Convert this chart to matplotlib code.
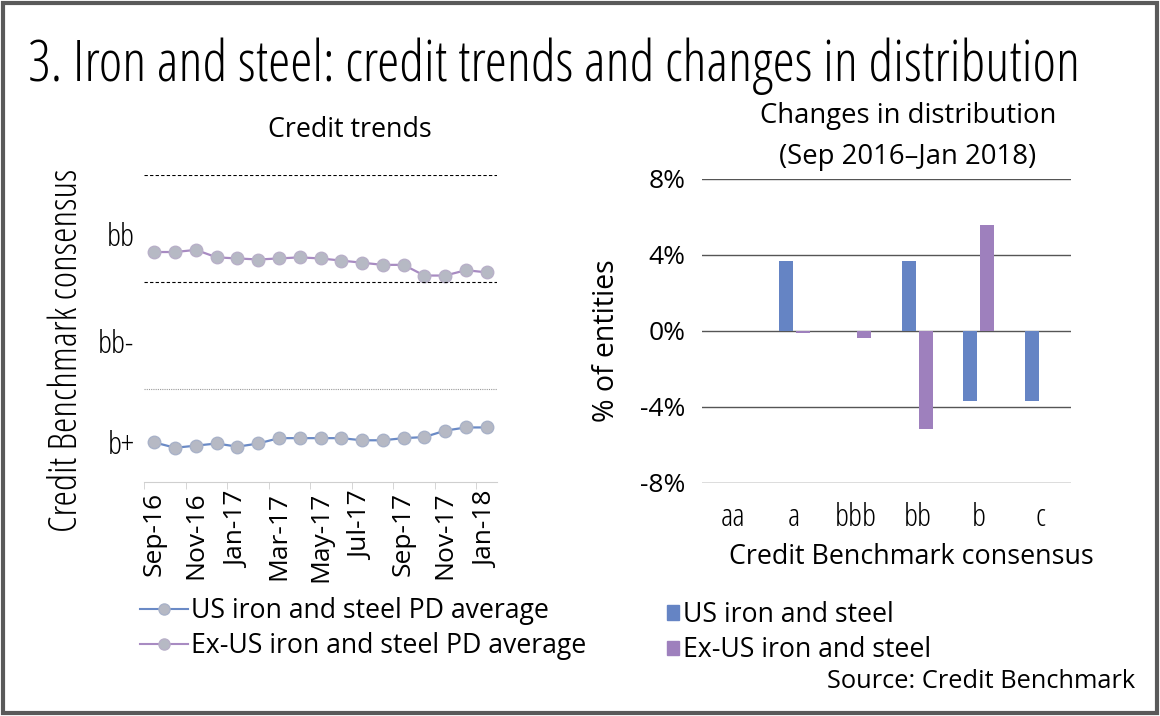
import numpy as np
import matplotlib.pyplot as plt
from matplotlib.patches import Rectangle, Patch
from matplotlib.lines import Line2D

plt.rcParams['font.family'] = ['Open Sans', 'DejaVu Sans']
plt.rcParams['font.stretch'] = 'normal'

months = ['Sep-16', 'Oct-16', 'Nov-16', 'Dec-16', 'Jan-17', 'Feb-17', 'Mar-17', 'Apr-17',
          'May-17', 'Jun-17', 'Jul-17', 'Aug-17', 'Sep-17', 'Oct-17', 'Nov-17', 'Dec-17', 'Jan-18']
us_pd = [0.50, 0.45, 0.47, 0.49, 0.46, 0.49, 0.54, 0.54, 0.54, 0.54, 0.52, 0.52,
         0.54, 0.55, 0.61, 0.64, 0.64]
exus_pd = [2.28, 2.28, 2.30, 2.23, 2.22, 2.21, 2.22, 2.23, 2.22, 2.20, 2.18, 2.16,
           2.16, 2.06, 2.06, 2.11, 2.09]
rating_labels = ['b+', 'bb-', 'bb']
rating_pos = [0.5, 1.45, 2.45]

grades = ['aa', 'a', 'bbb', 'bb', 'b', 'c']
us_change = [0.0, 3.7, 0.0, 3.7, -3.67, -3.67]
exus_change = [0.0, -0.08, -0.35, -5.15, 5.6, 0.0]

blue = '#6584C4'
purple = '#9E80BD'
marker_grey = '#B6B9C4'

fig = plt.figure(figsize=(11.6, 7.16), dpi=100)
W, H = 1160, 716
renderer = fig.canvas.get_renderer()


def px(x0, y0, x1, y1):
    return [x0 / W, 1 - y1 / H, (x1 - x0) / W, (y1 - y0) / H]


def fit(t, size_px, vertical=False):
    # scale font so the text spans size_px pixels
    bb = t.get_window_extent(renderer)
    cur = bb.height if vertical else bb.width
    t.set_fontsize(t.get_fontsize() * size_px / cur)
    return t.get_fontsize()


# outer frame
fig.patches.append(Rectangle((3 / W, 3 / H), 1 - 6 / W, 1 - 6 / H, transform=fig.transFigure,
                             fill=False, edgecolor='#5a5a5a', linewidth=3))

title = fig.text(28 / W, 1 - 66 / H, '3. Iron and steel: credit trends and changes in distribution',
                 fontsize=30, va='center', ha='left', stretch='condensed')
fit(title, 1052)

# left: credit trends
ax1 = fig.add_axes(px(144, 175, 497, 482))
x = np.arange(len(months))
ax1.plot(x, us_pd, '-o', color='#6A8AC6', lw=1.6, ms=9, mfc=marker_grey, mec='#A9B2C8')
ax1.plot(x, exus_pd, '-o', color='#A88BC2', lw=1.6, ms=9, mfc=marker_grey, mec='#B8B0C8')
ax1.axhline(3, color='black', lw=0.8, ls=(0, (3, 2)))
ax1.axhline(2, color='black', lw=0.8, ls=(0, (3, 2)))
ax1.axhline(1, color='#999999', lw=0.8, ls=(0, (1, 1)))
ax1.set_xlim(-0.5, len(months) - 0.5)
ax1.set_ylim(0.13, 3.0)
for s in ['top', 'right', 'left']:
    ax1.spines[s].set_visible(False)
ax1.spines['bottom'].set_color('#CFCFCF')
ax1.set_xticks(x[::2])
ax1.set_xticklabels(months[::2], rotation=90, fontsize=19)
ax1.set_xticks(np.arange(-0.5, len(months), 2), minor=True)
ax1.tick_params(axis='x', which='major', length=0, pad=7)
ax1.tick_params(axis='x', which='minor', length=5, color='#CFCFCF')
ax1.set_yticks(rating_pos)
ax1.set_yticklabels(rating_labels, fontsize=23, stretch='condensed')
ax1.tick_params(axis='y', length=0, pad=7)
t1 = fig.text(350 / W, 1 - 130 / H, 'Credit trends', ha='center', va='center', fontsize=20)
fit(t1, 164)
yl = fig.text(67 / W, 1 - 350 / H, 'Credit Benchmark consensus', rotation=90, fontsize=24,
              ha='center', va='center', stretch='condensed')
fit(yl, 364, vertical=True)

# legend font size from the width of the longest entry
probe = fig.text(0, 0, 'US iron and steel PD average', fontsize=20)
leg_fs = fit(probe, 357)
probe.remove()

leg1 = fig.legend([Line2D([], [], color='#6A8AC6', marker='o', mfc=marker_grey, mec='#A9B2C8', ms=8),
                   Line2D([], [], color='#A88BC2', marker='o', mfc=marker_grey, mec='#B8B0C8', ms=8)],
                  ['US iron and steel PD average', 'Ex-US iron and steel PD average'],
                  loc='upper left', bbox_to_anchor=(140 / W, 1 - 597 / H), frameon=False,
                  fontsize=leg_fs, handlelength=1.8, handletextpad=0.1, labelspacing=0.28,
                  borderaxespad=0, borderpad=0)

# right: changes in distribution
ax2 = fig.add_axes(px(702, 179, 1071, 483))
g = np.arange(len(grades))
ax2.bar(g - 0.14, us_change, width=0.23, color=blue, zorder=3)
ax2.bar(g + 0.14, exus_change, width=0.23, color=purple, zorder=3)
ax2.set_ylim(-8, 8)
ax2.set_xlim(-0.5, len(grades) - 0.5)
ax2.set_yticks([-8, -4, 0, 4, 8])
ax2.set_yticklabels(['-8%', '-4%', '0%', '4%', '8%'], fontsize=19)
ax2.yaxis.grid(True, color='#555555', lw=1)
ax2.set_axisbelow(True)
for s in ['top', 'right', 'left', 'bottom']:
    ax2.spines[s].set_visible(False)
ax2.tick_params(axis='both', length=0)
ax2.tick_params(axis='y', pad=12)
ax2.set_xticks(g)
ax2.set_xticklabels(grades, fontsize=23, stretch='condensed')
ax2.tick_params(axis='x', pad=14)
xl = fig.text(911 / W, 1 - 557 / H, 'Credit Benchmark consensus', ha='center', va='center',
              fontsize=24)
fit(xl, 366)
yl2 = fig.text(606 / W, 1 - 341 / H, '% of entities', rotation=90, ha='center', va='center',
               fontsize=24)
fit(yl2, 163, vertical=True)
t2a = fig.text(908 / W, 1 - 116 / H, 'Changes in distribution', ha='center', va='center', fontsize=22)
fit(t2a, 297)
t2b = fig.text(908 / W, 1 - 157 / H, '(Sep 2016\u2013Jan 2018)', ha='center', va='center',
               fontsize=t2a.get_fontsize())

leg2 = fig.legend([Patch(color=blue), Patch(color=purple)],
                  ['US iron and steel', 'Ex-US iron and steel'],
                  loc='upper left', bbox_to_anchor=(667 / W, 1 - 601 / H), frameon=False,
                  fontsize=leg_fs, handlelength=0.45, handleheight=0.45, handletextpad=0.15,
                  labelspacing=0.28, borderaxespad=0, borderpad=0)

src = fig.text(1135 / W, 1 - 682 / H, 'Source: Credit Benchmark', fontsize=18, ha='right',
               va='center')
fit(src, 309)

fig.savefig('out.png', dpi=100)
